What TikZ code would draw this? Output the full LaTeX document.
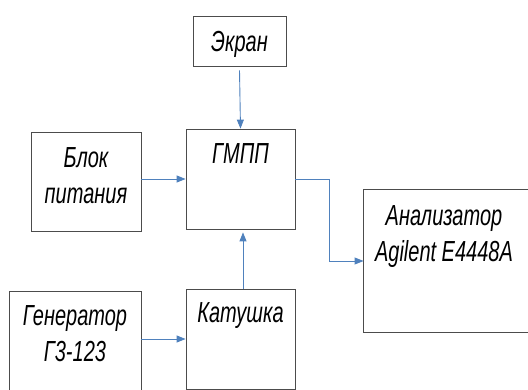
\documentclass[tikz,border=0pt]{standalone}
\usepackage{fontspec}
\setmainfont[FakeStretch=0.69]{Liberation Sans}
\usepackage{tikz}
\usetikzlibrary{positioning}
\usetikzlibrary{arrows.meta}
\definecolor{wireblue}{HTML}{4F81BD}
\tikzstyle{block}=[draw=black!70, rectangle, line width=0.8pt, inner sep=0pt]
\tikzstyle{openblock}=[rectangle, inner sep=0pt]
\tikzstyle{caption}=[inner sep=0pt, align=center, text=black, font=\fontsize{29}{36}\selectfont\itshape]

\begin{document}
\begin{tikzpicture}[x=1pt, y=-1pt, line width=0.9pt, color=wireblue, -{Triangle[length=9pt, width=7pt]}]
				
				\useasboundingbox (0,0) rectangle (528,390);
				
				\node (ekran) [block, minimum width=93pt, minimum height=50pt] at (239.5,41) {};
				\node (gmpp) [block, minimum width=109pt, minimum height=100pt] at (240.5,179) {};
				\node (blok) [block, minimum width=110pt, minimum height=99pt] at (86,181.5) {};
				\node (analiz) [openblock, minimum width=164pt, minimum height=142pt] at (446,261) {};
				\node (gen) [block, minimum width=132pt, minimum height=104pt] at (75,343) {};
				\node (kat) [block, minimum width=109pt, minimum height=100pt] at (240.5,339) {};
				\draw [-, black!70, line width=0.8pt] (analiz.north east) -- (analiz.north west) -- (analiz.south west) -- (analiz.south east);
				%
				\node (ekranlabel) [caption, below=15pt of ekran.north] {Экран};
				\node (gmpplabel) [caption, below=14pt of gmpp.north] {ГМПП};
				\node (bloklabel) [caption, below=15pt of blok.north] {Блок\\питания};
				\node (analizlabel) [caption, below=16pt of analiz.north, xshift=-2pt] {Анализатор\\Agilent E4448A};
				\node (genlabel) [caption, below=14pt of gen.north] {Генератор\\Г3-123};
				\node (katlabel) [caption, below=13pt of kat.north] {Катушка};
				
				\draw ([yshift=-4pt]ekran.south) to (gmpp.north);
				\draw (blok.east |- gmpp.west) to (gmpp.west);
				\draw (gmpp.east) -- ++(34,0) |- (analiz.west);
				\draw ([xshift=2.5pt]kat.north) to ([xshift=2.5pt,yshift=-3pt]gmpp.south);
				\draw (gen.east |- kat.west) to (kat.west);
				\end{tikzpicture}
\end{document}
